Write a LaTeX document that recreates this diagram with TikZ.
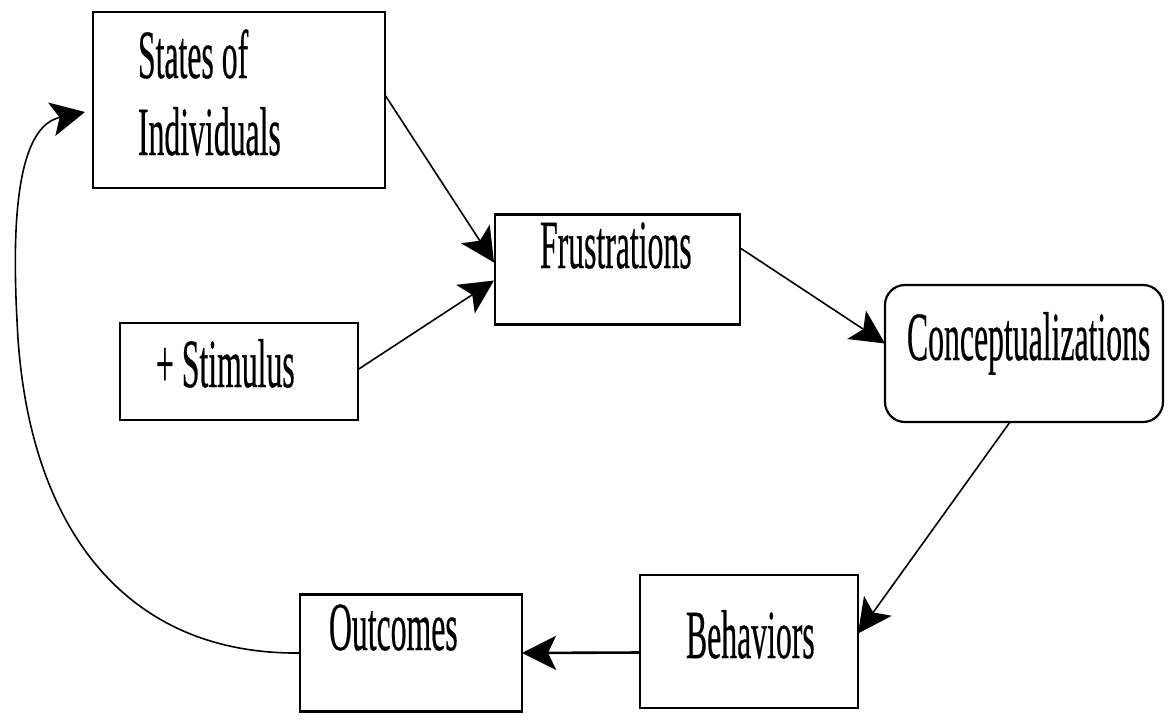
\documentclass[tikz,border=0pt]{standalone}
\usepackage{fontspec}
\setmainfont{Liberation Serif}
\newfontfamily\lblfont[FakeBold=0.6]{Liberation Serif}
\usetikzlibrary{arrows.meta,calc}
\tikzset{
  box/.style={draw, line width=1.1pt, inner sep=0pt, outer sep=0pt},
  lbl/.style={anchor=base west, inner sep=0pt, outer sep=0pt, font=\lblfont\fontsize{34.5}{38.5}\selectfont},
  conn/.style={line width=0.8pt, -{Stealth[length=17pt,width=17pt,inset=4pt]}},
}
\newcommand{\sqtext}[1]{\scalebox{0.46}[1]{#1}}
\begin{document}
\begin{tikzpicture}[x=0.5pt,y=-0.5pt]
\useasboundingbox (0,0) rectangle (1168,719);
\fill[white] (0,0) rectangle (1168,719);
% boxes
\node[box, minimum width=146pt, minimum height=88pt] (states) at (239,100) {};
\node[box, minimum width=122.5pt, minimum height=55pt] (frus) at (617.5,269.5) {};
\node[box, minimum width=119pt, minimum height=48.5pt] (stim) at (239,371.5) {};
\node[box, rounded corners=10pt, minimum width=139pt, minimum height=68.5pt] (conc) at (1024,353.5) {};
\node[box, minimum width=109pt, minimum height=66.5pt] (beh) at (749,641.5) {};
\node[box, minimum width=111pt, minimum height=58.5pt] (out) at (411,653) {};
% labels
\node[lbl] (t1) at (138,78) {\sqtext{States of}};
\node[lbl] (t2) at (138,155) {\sqtext{Individuals}};
\node[lbl] (t3) at (540,268) {\sqtext{Frustrations}};
\node[lbl] (t4) at (156,387) {\sqtext{+ Stimulus}};
\node[lbl] (t5) at (907,360) {\sqtext{Conceptualizations}};
\node[lbl] (t6) at (686,658) {\sqtext{Behaviors}};
\node[lbl] (t7) at (329,650) {\sqtext{Outcomes}};
% connectors
\coordinate (statesin) at (85,112);
\draw[conn] ($(states.east)+(0,-5)$) -- ($(frus.west)+(-1,-7)$);
\draw[conn] ($(stim.east)+(0,-2)$) -- ($(frus.west)+(-1,11)$);
\draw[conn] ($(frus.east)+(1,-21)$) -- ($(conc.west)+(0,-10)$);
\draw[conn] ($(conc.south)+(-14,0)$) -- ($(beh.east)+(0,-8)$);
\draw[conn, line width=1.3pt] ($(beh.west)+(0,11)$) -- (out.east);
\draw[conn] (out.west) .. controls (120,655) and (25,520) .. (17,320)
  .. controls (10,190) and (25,125) .. (statesin);
\end{tikzpicture}
\end{document}
